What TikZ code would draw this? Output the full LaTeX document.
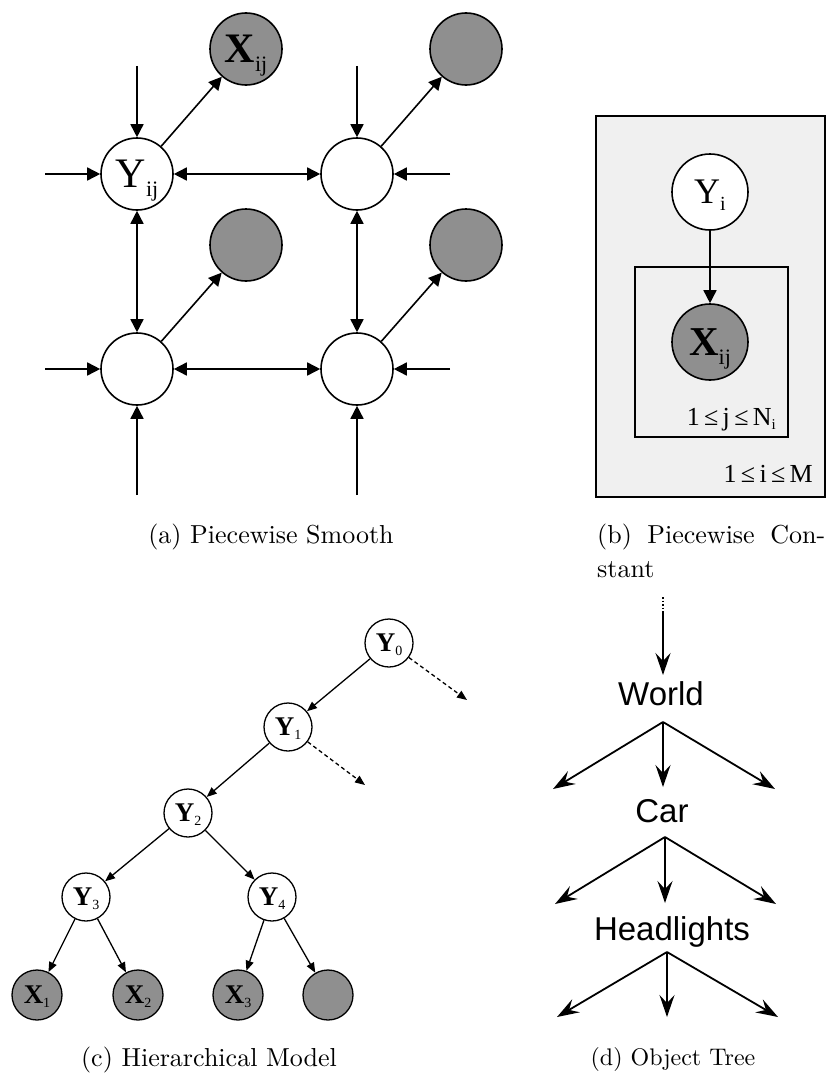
\documentclass[tikz,border=0pt]{standalone}
\usepackage{fontspec}
\newfontfamily\tms{Liberation Serif}
\newfontfamily\hlv{Liberation Sans}
\newfontfamily\capf{lmroman10-regular}[Extension=.otf]
\usetikzlibrary{arrows.meta}
\newcommand{\fs}[1]{\fontsize{#1}{#1}\selectfont}
\newcommand{\lowsub}[3]{\smash{\raisebox{#2}{\fs{#1}#3}}}
\begin{document}
\begin{tikzpicture}[x=1pt,y=-1pt,
  ya/.style={circle,draw,line width=1.6pt,minimum size=72pt,inner sep=0pt,fill=white,font=\tms},
  xa/.style={ya,fill=black!44},
  arr/.style={line width=1.6pt,-{Triangle[length=13pt,width=13pt]}},
  barr/.style={line width=1.6pt,{Triangle[length=13pt,width=13pt]}-{Triangle[length=13pt,width=13pt]}},
  yc/.style={circle,draw,line width=1.3pt,minimum size=48pt,inner sep=0pt,fill=white,font=\tms\bfseries},
  xc/.style={yc,fill=black!44},
  carr/.style={line width=1.3pt,-{Triangle[length=10pt,width=8pt]}},
  dcarr/.style={carr,dashed,dash pattern=on 4pt off 3pt},
  dtr/.style={line width=1.8pt,-{Stealth[length=22pt,width=15pt,inset=8pt]}},
  capn/.style={inner sep=0pt,anchor=base}
]
\path[use as bounding box] (0,0) rectangle (827,1073);

% ---------------- (a) Piecewise Smooth ----------------
\node[ya] (Y11) at (137,174) {\fs{42}Y\lowsub{22}{-9pt}{ij}};
\node[ya] (Y12) at (357,174) {};
\node[ya] (Y21) at (137,369) {};
\node[ya] (Y22) at (357,369) {};
\node[xa] (X11) at (246,49) {\fs{42}\bfseries X\lowsub{22}{-9pt}{\mdseries ij}};
\node[xa] (X12) at (466,49) {};
\node[xa] (X21) at (246,245) {};
\node[xa] (X22) at (466,245) {};
\coordinate (l1) at (45,174);
\coordinate (l2) at (45,369);
\coordinate (r1) at (450,174);
\coordinate (r2) at (450,369);
\coordinate (t1) at (137,66);
\coordinate (t2) at (357,66);
\coordinate (b1) at (137,495);
\coordinate (b2) at (357,495);
\draw[arr] (l1) -- (Y11);
\draw[arr] (l2) -- (Y21);
\draw[arr] (r1) -- (Y12);
\draw[arr] (r2) -- (Y22);
\draw[arr] (t1) -- (Y11);
\draw[arr] (t2) -- (Y12);
\draw[arr] (b1) -- (Y21);
\draw[arr] (b2) -- (Y22);
\draw[barr] (Y11) -- (Y12);
\draw[barr] (Y21) -- (Y22);
\draw[barr] (Y11) -- (Y21);
\draw[barr] (Y12) -- (Y22);
\draw[arr] (Y11) -- (X11);
\draw[arr] (Y12) -- (X12);
\draw[arr] (Y21) -- (X21);
\draw[arr] (Y22) -- (X22);
\node[capn,font=\capf\fs{26}] (capa) at (271,543) {(a) Piecewise Smooth};

% ---------------- (b) Piecewise Constant ----------------
\draw[line width=1.8pt,fill=black!6] (596,116) rectangle (825,497);
\draw[line width=1.8pt] (635,267) rectangle (788,437);
\node[ya,minimum size=76pt] (Yi) at (710,192) {\fs{36}Y\lowsub{20}{-7pt}{i}};
\node[xa,minimum size=76pt] (Xij) at (710,342) {\fs{41}\bfseries X\lowsub{22}{-9pt}{\mdseries ij}};
\draw[arr] (Yi) -- (Xij);
\node[inner sep=0pt,anchor=base east,font=\tms\fs{26}] (labj) at (776,425) {1\,≤\,j\,≤\,N\raisebox{-4pt}{\fs{15}i}};
\node[inner sep=0pt,anchor=base east,font=\tms\fs{26}] (labi) at (813,482) {1\,≤\,i\,≤\,M};
\node[inner sep=0pt,anchor=base west,font=\capf\fs{26}] (capb1) at (597,543) {\makebox[228pt][s]{(b) Piecewise Con-}};
\node[inner sep=0pt,anchor=base west,font=\capf\fs{26}] (capb2) at (597,577) {stant};

% ---------------- (c) Hierarchical Model ----------------
\node[yc] (C0) at (389,643) {\fs{27}Y\lowsub{14}{-4pt}{\mdseries 0}};
\node[yc] (C1) at (288,727) {\fs{27}Y\lowsub{14}{-4pt}{\mdseries 1}};
\node[yc] (C2) at (188,813) {\fs{27}Y\lowsub{14}{-4pt}{\mdseries 2}};
\node[yc] (C3) at (86,897) {\fs{27}Y\lowsub{14}{-4pt}{\mdseries 3}};
\node[yc] (C4) at (272,897) {\fs{27}Y\lowsub{14}{-4pt}{\mdseries 4}};
\node[xc,minimum size=50pt] (D1) at (37,995) {\fs{27}X\lowsub{14}{-4pt}{\mdseries 1}};
\node[xc,minimum size=50pt] (D2) at (138,995) {\fs{27}X\lowsub{14}{-4pt}{\mdseries 2}};
\node[xc,minimum size=50pt] (D3) at (238,995) {\fs{27}X\lowsub{14}{-4pt}{\mdseries 3}};
\node[xc,minimum size=50pt] (D4) at (328,995) {};
\coordinate (e0) at (467,700);
\coordinate (e1) at (365,785);
\draw[carr] (C0) -- (C1);
\draw[carr] (C1) -- (C2);
\draw[carr] (C2) -- (C3);
\draw[carr] (C2) -- (C4);
\draw[carr] (C3) -- (D1);
\draw[carr] (C3) -- (D2);
\draw[carr] (C4) -- (D3);
\draw[carr] (C4) -- (D4);
\draw[dcarr] (C0) -- (e0);
\draw[dcarr] (C1) -- (e1);
\node[capn,font=\capf\fs{26}] (capc) at (209,1066) {(c) Hierarchical Model};

% ---------------- (d) Object Tree ----------------
\node[inner sep=0pt,anchor=base,font=\hlv\fs{33}] (World) at (661,705) {World};
\node[inner sep=0pt,anchor=base,font=\hlv\fs{33}] (Car) at (662,822) {Car};
\node[inner sep=0pt,anchor=base,font=\hlv\fs{33}] (Head) at (672,940) {Headlights};
\coordinate (top0) at (663,597);
\coordinate (top1) at (663,613);
\coordinate (top2) at (663,675);
\draw[line width=1.5pt,dotted] (top0) -- (top1);
\draw[dtr] (top1) -- (top2);
\coordinate (wa) at (663,722);
\coordinate (wl) at (553,789);
\coordinate (wm) at (663,787);
\coordinate (wr) at (775,789);
\coordinate (ca) at (665,837);
\coordinate (cl) at (555,904);
\coordinate (cm) at (665,903);
\coordinate (cr) at (776,904);
\coordinate (ha) at (667,952);
\coordinate (hl) at (557,1017);
\coordinate (hm) at (667,1017);
\coordinate (hr) at (778,1017);
\draw[dtr] (wa) -- (wl);
\draw[dtr] (wa) -- (wm);
\draw[dtr] (wa) -- (wr);
\draw[dtr] (ca) -- (cl);
\draw[dtr] (ca) -- (cm);
\draw[dtr] (ca) -- (cr);
\draw[dtr] (ha) -- (hl);
\draw[dtr] (ha) -- (hm);
\draw[dtr] (ha) -- (hr);
\node[capn,font=\capf\fs{24}] (capd) at (673,1065) {(d) Object Tree};
\end{tikzpicture}
\end{document}
